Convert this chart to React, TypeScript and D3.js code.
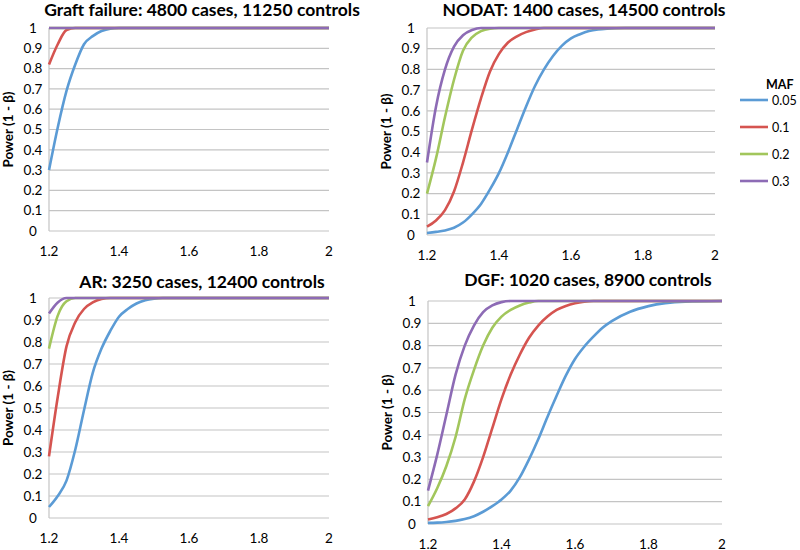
import React, { useEffect, useRef } from 'react';
import * as d3 from 'd3';

// odds ratio grid shared by every series
const oddsRatio = [1.2, 1.225, 1.25, 1.275, 1.3, 1.325, 1.35, 1.375, 1.4, 1.425, 1.45, 1.475, 1.5,
  1.525, 1.55, 1.575, 1.6, 1.625, 1.65, 1.675, 1.7, 1.75, 1.8, 1.9, 2.0];

const mafLevels = ['0.05', '0.1', '0.2', '0.3'];
const seriesColors = ['#5b9bd5', '#d55450', '#a2c65c', '#8d6bb5'];

const yTicks = [0, 0.1, 0.2, 0.3, 0.4, 0.5, 0.6, 0.7, 0.8, 0.9, 1];
const xTicks = [1.2, 1.4, 1.6, 1.8, 2];

// Graft failure
const gf005 = [0.30, 0.51, 0.69, 0.82, 0.92, 0.96, 0.985, 0.997, 1, 1, 1, 1, 1, 1, 1, 1, 1, 1, 1, 1, 1, 1, 1, 1, 1];
const gf01 = [0.82, 0.92, 0.99, 1, 1, 1, 1, 1, 1, 1, 1, 1, 1, 1, 1, 1, 1, 1, 1, 1, 1, 1, 1, 1, 1];
const gf02 = [1, 1, 1, 1, 1, 1, 1, 1, 1, 1, 1, 1, 1, 1, 1, 1, 1, 1, 1, 1, 1, 1, 1, 1, 1];
const gf03 = [1, 1, 1, 1, 1, 1, 1, 1, 1, 1, 1, 1, 1, 1, 1, 1, 1, 1, 1, 1, 1, 1, 1, 1, 1];

// NODAT
const nd005 = [0.01, 0.015, 0.022, 0.035, 0.06, 0.10, 0.15, 0.22, 0.30, 0.40, 0.51, 0.62, 0.72, 0.80, 0.865, 0.915, 0.95, 0.97, 0.985, 0.993, 0.997, 1, 1, 1, 1];
const nd01 = [0.04, 0.07, 0.12, 0.21, 0.35, 0.51, 0.66, 0.79, 0.875, 0.93, 0.96, 0.98, 0.993, 1, 1, 1, 1, 1, 1, 1, 1, 1, 1, 1, 1];
const nd02 = [0.20, 0.37, 0.57, 0.75, 0.89, 0.955, 0.985, 0.997, 1, 1, 1, 1, 1, 1, 1, 1, 1, 1, 1, 1, 1, 1, 1, 1, 1];
const nd03 = [0.35, 0.62, 0.80, 0.91, 0.965, 0.99, 1, 1, 1, 1, 1, 1, 1, 1, 1, 1, 1, 1, 1, 1, 1, 1, 1, 1, 1];

// AR
const ar005 = [0.05, 0.10, 0.17, 0.31, 0.49, 0.66, 0.77, 0.85, 0.915, 0.95, 0.975, 0.99, 0.997, 1, 1, 1, 1, 1, 1, 1, 1, 1, 1, 1, 1];
const ar01 = [0.28, 0.55, 0.78, 0.89, 0.95, 0.98, 0.995, 1, 1, 1, 1, 1, 1, 1, 1, 1, 1, 1, 1, 1, 1, 1, 1, 1, 1];
const ar02 = [0.77, 0.92, 0.985, 1, 1, 1, 1, 1, 1, 1, 1, 1, 1, 1, 1, 1, 1, 1, 1, 1, 1, 1, 1, 1, 1];
const ar03 = [0.93, 0.98, 1, 1, 1, 1, 1, 1, 1, 1, 1, 1, 1, 1, 1, 1, 1, 1, 1, 1, 1, 1, 1, 1, 1];

// DGF
const dg005 = [0.005, 0.006, 0.009, 0.014, 0.022, 0.035, 0.055, 0.08, 0.11, 0.15, 0.21, 0.29, 0.38, 0.48, 0.575, 0.665, 0.74, 0.795, 0.84, 0.88, 0.91, 0.952, 0.977, 0.997, 1];
const dg01 = [0.02, 0.03, 0.045, 0.07, 0.11, 0.19, 0.30, 0.43, 0.56, 0.67, 0.76, 0.835, 0.89, 0.93, 0.96, 0.978, 0.99, 0.997, 1, 1, 1, 1, 1, 1, 1];
const dg02 = [0.08, 0.16, 0.26, 0.39, 0.56, 0.69, 0.80, 0.88, 0.93, 0.96, 0.98, 0.993, 1, 1, 1, 1, 1, 1, 1, 1, 1, 1, 1, 1, 1];
const dg03 = [0.15, 0.31, 0.49, 0.67, 0.80, 0.89, 0.95, 0.98, 0.995, 1, 1, 1, 1, 1, 1, 1, 1, 1, 1, 1, 1, 1, 1, 1, 1];

const panelTitles = [
  'Graft failure: 4800 cases, 11250 controls',
  'NODAT: 1400 cases, 14500 controls',
  'AR: 3250 cases, 12400 controls',
  'DGF: 1020 cases, 8900 controls',
];
const panelSeries = [
  [gf005, gf01, gf02, gf03],
  [nd005, nd01, nd02, nd03],
  [ar005, ar01, ar02, ar03],
  [dg005, dg01, dg02, dg03],
];

// plot boxes in pixels: left, right, top, bottom, title centre x, title y
const boxes = [
  { l: 49, r: 329, t: 28, b: 231, tx: 202, ty: 10 },
  { l: 427, r: 715, t: 28, b: 235, tx: 584, ty: 10 },
  { l: 49, r: 329, t: 298, b: 518, tx: 202, ty: 282 },
  { l: 428, r: 722, t: 301, b: 524, tx: 588, ty: 280 },
];

const font = 'Lato, "Liberation Sans", sans-serif';

const App = () => {
  const ref = useRef<SVGSVGElement>(null);

  useEffect(() => {
    const svg = d3.select(ref.current);
    svg.selectAll('*').remove();

    boxes.forEach((bx, p) => {
      const x = d3.scaleLinear().domain([1.2, 2]).range([bx.l, bx.r]);
      const y = d3.scaleLinear().domain([0, 1]).range([bx.b, bx.t]);
      const g = svg.append('g');

      // gridlines
      g.selectAll('line.grid')
        .data(yTicks)
        .join('line')
        .attr('x1', bx.l).attr('x2', bx.r)
        .attr('y1', d => y(d)).attr('y2', d => y(d))
        .attr('stroke', '#c4c4c4')
        .attr('stroke-width', 1.2);
      g.append('line')
        .attr('x1', bx.l).attr('x2', bx.l)
        .attr('y1', y(0)).attr('y2', y(1))
        .attr('stroke', '#c4c4c4')
        .attr('stroke-width', 1.2);

      // tick labels
      g.selectAll('text.ytick')
        .data(yTicks)
        .join('text')
        .attr('x', bx.l - 16)
        .attr('y', d => y(d))
        .attr('dy', '0.35em')
        .attr('text-anchor', 'middle')
        .attr('font-family', font)
        .attr('font-size', 13.5)
        .text(d => d3.format('~g')(d));
      g.selectAll('text.xtick')
        .data(xTicks)
        .join('text')
        .attr('x', d => x(d))
        .attr('y', bx.b + 20)
        .attr('dy', '0.35em')
        .attr('text-anchor', 'middle')
        .attr('font-family', font)
        .attr('font-size', 13.5)
        .text(d => d3.format('~g')(d));

      // axis title
      g.append('text')
        .attr('transform', `translate(${bx.l - 41},${(bx.t + bx.b) / 2}) rotate(-90)`)
        .attr('dy', '0.35em')
        .attr('text-anchor', 'middle')
        .attr('font-family', font)
        .attr('font-weight', 'bold')
        .attr('font-size', 13.5)
        .text('Power (1 - β)');

      // panel title
      g.append('text')
        .attr('x', bx.tx)
        .attr('y', bx.ty)
        .attr('dy', '0.35em')
        .attr('text-anchor', 'middle')
        .attr('font-family', font)
        .attr('font-weight', 'bold')
        .attr('font-size', 17.5)
        .text(panelTitles[p]);

      const line = d3.line<number>()
        .x((d, i) => x(oddsRatio[i]))
        .y(d => y(d))
        .curve(d3.curveMonotoneX);

      g.selectAll('path.series')
        .data(panelSeries[p])
        .join('path')
        .attr('d', d => line(d))
        .attr('fill', 'none')
        .attr('stroke', (d, i) => seriesColors[i])
        .attr('stroke-width', 2.6);
    });

    // legend
    const lg = svg.append('g');
    lg.append('text')
      .attr('x', 766).attr('y', 85).attr('dy', '0.35em')
      .attr('font-family', font).attr('font-weight', 'bold').attr('font-size', 12.5)
      .text('MAF');
    const legY = d3.scalePoint().domain(mafLevels).range([100, 181]);
    lg.selectAll('line')
      .data(mafLevels)
      .join('line')
      .attr('x1', 740).attr('x2', 768)
      .attr('y1', d => legY(d)!).attr('y2', d => legY(d)!)
      .attr('stroke', (d, i) => seriesColors[i])
      .attr('stroke-width', 2.6);
    lg.selectAll('text.lab')
      .data(mafLevels)
      .join('text')
      .attr('x', 772).attr('y', d => legY(d)! + 1).attr('dy', '0.35em')
      .attr('font-family', font).attr('font-size', 12.5)
      .text(d => d);
  }, []);

  return (
    <svg ref={ref} width={800} height={550}
      style={{ position: 'absolute', left: 0, top: 0, background: '#fff' }} />
  );
};

export default App;
